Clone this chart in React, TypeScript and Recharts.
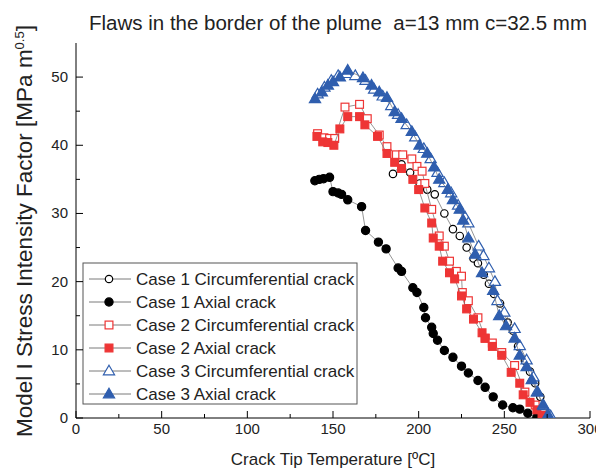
import React from 'react';
import { ScatterChart, Scatter, XAxis, YAxis, Customized } from 'recharts';

// Crack tip temperature [°C] vs. mode I stress intensity factor [MPa m^0.5]
type Pt = { t: number; k: number };
const pts = (rows: number[][]): Pt[] => rows.map(([t, k]) => ({ t, k }));

const case1Circumferential = pts([
  [185, 35.8], [190, 37.2], [195, 36], [200.6, 34.4], [205, 33.5], [209.4, 32.8], [215, 30],
  [220, 27.7], [224, 26.7], [228, 25], [232, 23.4], [234.6, 22.7], [238, 21], [241, 19.7],
  [244, 18.2], [247.5, 16.8], [252, 14], [255, 12.8], [258, 10.5], [262, 8.4], [265, 6.8],
  [268, 5.1], [271, 3.1], [274, 0.5],
]);

const case1Axial = pts([
  [139.4, 34.8], [142, 35], [144.5, 35.1], [148, 35.3], [150, 33.2], [153, 33], [155, 32.8],
  [158.6, 32], [166.7, 31], [169, 27.5], [176.5, 25.8], [181, 24.8], [188, 22], [190, 21.5],
  [196.6, 19.1], [199, 18.4], [203, 16.2], [204, 14.7], [207.6, 13.3], [208.5, 12.4], [211, 11.4],
  [215, 9.9], [220, 8.9], [225, 7.6], [229, 6.6], [234.6, 5.5], [238.8, 4.5], [243.5, 3.1],
  [249, 1.9], [255, 1.5], [259, 1.3], [263.7, 0.7], [269, 0.1],
]);

const case2Circumferential = pts([
  [141, 41.7], [144.7, 41.1], [148, 41], [151, 41], [157, 45.6], [165.5, 46], [170, 43.9],
  [177, 41.5], [181.5, 39.8], [187, 38.6], [190.7, 38.6], [196, 38], [199, 36.9], [202, 36.2],
  [203.6, 34.4], [207.6, 30.6], [212, 26.7], [215, 25.2], [218, 23], [222, 21.5], [225, 20.8],
  [225.5, 18.4], [229, 17.2], [234.6, 14.7], [238.8, 11.7], [243, 11], [248.5, 9.6], [256, 7.7],
  [262, 3.8], [268, 1.9], [272.5, 0.7],
]);

const case2Axial = pts([
  [140.6, 41.3], [144, 40.5], [147, 40.4], [150.5, 40], [154, 42.4], [158.6, 44.2], [165.5, 44.2],
  [168.6, 43], [176, 41.3], [181.5, 38.8], [186, 37.5], [190, 36.6], [196.6, 35], [200, 33.5],
  [203.6, 30.8], [207.6, 28.6], [208.5, 26.4], [212, 25.2], [214, 23], [218, 21.3], [221, 20.4],
  [225, 17.9], [228, 16], [232, 14.5], [237, 12.5], [238.8, 11.7], [243, 10.5], [248.5, 9.2],
  [254, 6.7], [259, 5.1], [261, 3.4], [265, 2.3], [269, 1.2], [272, 0.4],
]);

const case3Circumferential = pts([
  [141, 47.5], [145, 48.5], [149, 49.5], [153, 50.2], [158, 50.5], [163, 50.2], [169, 49.5],
  [174, 48.2], [179, 47.2], [184, 45.8], [188, 44.5], [193, 43], [198, 41.2], [203, 39.5],
  [207, 38], [211, 36], [215, 34.5], [219, 33], [223, 31.2], [227, 29.5], [229, 28.6],
  [235, 25.2], [237.8, 23.8], [241, 22], [244.5, 20], [246, 17.2], [250, 15.5], [256, 13.1],
  [259, 10.6], [263, 8.5], [267, 6], [269, 3.8], [273, 1.8], [277, 0.3],
]);

const case3Axial = pts([
  [139.5, 46.8], [143.5, 47.8], [147, 48.8], [150, 49.3], [154, 50], [158.6, 51], [167.5, 49.9],
  [172.5, 48.8], [177, 47.8], [181.5, 47], [186, 44.9], [190, 43.9], [196, 42], [200.5, 40],
  [205, 38.8], [209, 36.8], [212, 35], [217, 33.5], [220, 32], [224, 30.6], [226, 29],
  [229, 26.4], [233, 24], [237, 21.3], [243.5, 18.7], [247, 15], [251, 13.5], [256, 11.7],
  [259, 9.2], [263, 7.5], [266, 5.6], [269.5, 3.8], [272.5, 1.9], [275.5, 0.5],
]);

const xTicks = [0, 25, 50, 75, 100, 125, 150, 175, 200, 225, 250, 275, 300];
const yTicks = [0, 5, 10, 15, 20, 25, 30, 35, 40, 45, 50];
const xMajorStep = 50;
const yMajorStep = 10;

const RED = '#ee3535';
const BLUE = '#2f5eae';
const BLACK = '#000000';
const LINK = '#7a7a7a';
const FONT = '"Liberation Sans", Arial, sans-serif';

type Kind = 'circle' | 'square' | 'triangle';
type SeriesDef = { name: string; data: Pt[]; kind: Kind; filled: boolean; color: string };

const series: SeriesDef[] = [
  { name: 'Case 1 Circumferential crack', data: case1Circumferential, kind: 'circle', filled: false, color: BLACK },
  { name: 'Case 1 Axial crack', data: case1Axial, kind: 'circle', filled: true, color: BLACK },
  { name: 'Case 2 Circumferential crack', data: case2Circumferential, kind: 'square', filled: false, color: RED },
  { name: 'Case 2 Axial crack', data: case2Axial, kind: 'square', filled: true, color: RED },
  { name: 'Case 3 Circumferential crack', data: case3Circumferential, kind: 'triangle', filled: false, color: BLUE },
  { name: 'Case 3 Axial crack', data: case3Axial, kind: 'triangle', filled: true, color: BLUE },
];

function Marker({ kind, filled, color, cx, cy }: { kind: Kind; filled: boolean; color: string; cx: number; cy: number }) {
  if (cx == null || cy == null || isNaN(cx) || isNaN(cy)) return null;
  const fill = filled ? color : '#ffffff';
  if (kind === 'circle') {
    const r = filled ? 4.1 : 3.7;
    return <circle cx={cx} cy={cy} r={r} fill={fill} stroke={color} strokeWidth={1.2} />;
  }
  if (kind === 'square') {
    const h = 3.9;
    return <rect x={cx - h} y={cy - h} width={2 * h} height={2 * h} fill={fill} stroke={color} strokeWidth={1.2} />;
  }
  const w = 5.6;
  return (
    <polygon
      points={`${cx},${cy - 5.8} ${cx + w},${cy + 3.8} ${cx - w},${cy + 3.8}`}
      fill={fill}
      stroke={color}
      strokeWidth={1.2}
      strokeLinejoin="miter"
    />
  );
}

const isMajor = (v: number, step: number) => Math.abs(v / step - Math.round(v / step)) < 1e-6;

const BottomTick = (p: any) => {
  const major = isMajor(p.payload.value, xMajorStep);
  return (
    <g>
      <line x1={p.x} y1={p.y} x2={p.x} y2={p.y - (major ? 7 : 4)} stroke="#000" strokeWidth={1} />
      {major && (
        <text x={p.x} y={p.y + 16} textAnchor="middle" fontSize={15} fontFamily={FONT} fill="#222">
          {p.payload.value}
        </text>
      )}
    </g>
  );
};

const TopTick = (p: any) => {
  const major = isMajor(p.payload.value, xMajorStep);
  return <line x1={p.x} y1={p.y} x2={p.x} y2={p.y + (major ? 7 : 4)} stroke="#000" strokeWidth={1} />;
};

const LeftTick = (p: any) => {
  const major = isMajor(p.payload.value, yMajorStep);
  return (
    <g>
      <line x1={p.x} y1={p.y} x2={p.x + (major ? 7 : 4)} y2={p.y} stroke="#000" strokeWidth={1} />
      {major && (
        <text x={p.x - 8} y={p.y + 5} textAnchor="end" fontSize={15} fontFamily={FONT} fill="#222">
          {p.payload.value}
        </text>
      )}
    </g>
  );
};

const RightTick = (p: any) => {
  const major = isMajor(p.payload.value, yMajorStep);
  return <line x1={p.x} y1={p.y} x2={p.x - (major ? 7 : 4)} y2={p.y} stroke="#000" strokeWidth={1} />;
};

const Title = () => (
  <text x={81} y={22} textAnchor="start" fontSize={20.5} fontFamily={FONT} fill="#222">
    Flaws in the border of the plume{'\u00A0\u00A0'}a=13 mm c=32.5 mm
  </text>
);

const AxisTitles = () => (
  <g fontFamily={FONT} fill="#222">
    <text x={325} y={457} textAnchor="middle" fontSize={17}>
      Crack Tip Temperature [ºC]
    </text>
    <text transform="translate(24, 429) rotate(-90)" textAnchor="start" fontSize={22.5}>
      Model I Stress Intensity Factor [MPa m
      <tspan dy={-8} fontSize={13}>0.5</tspan>
      <tspan dy={8}>]</tspan>
    </text>
  </g>
);

const LegendBox = () => {
  const left = 75;
  const top = 255;
  const rowGap = 23;
  return (
    <g fontFamily={FONT}>
      <rect x={left} y={top} width={274} height={141} fill="#fff" stroke="#555" strokeWidth={1} />
      {series.map((s, i) => {
        const cy = top + 16 + i * rowGap;
        return (
          <g key={s.name}>
            <line x1={left + 6} y1={cy} x2={left + 48} y2={cy} stroke={LINK} strokeWidth={1} />
            <Marker kind={s.kind} filled={s.filled} color={s.color} cx={left + 26} cy={cy} />
            <text x={left + 53} y={cy + 6} fontSize={17} fill="#222">
              {s.name}
            </text>
          </g>
        );
      })}
    </g>
  );
};

export default function App() {
  return (
    <div>
      <style>{'.recharts-surface{overflow:visible}'}</style>
      <ScatterChart width={590} height={463} margin={{ top: 35, right: 8, bottom: 8, left: 0 }}>
        <XAxis
          xAxisId="b"
          type="number"
          dataKey="t"
          domain={[0, 300]}
          ticks={xTicks}
          interval={0}
          height={45}
          tickSize={0}
          tickMargin={0}
          tickLine={false}
          tick={<BottomTick />}
          axisLine={{ stroke: '#000', strokeWidth: 1 }}
          allowDataOverflow
        />
        <XAxis
          xAxisId="t"
          orientation="top"
          type="number"
          dataKey="t"
          domain={[0, 300]}
          ticks={xTicks}
          interval={0}
          height={0}
          tickSize={0}
          tickMargin={0}
          tickLine={false}
          tick={<TopTick />}
          axisLine={{ stroke: '#000', strokeWidth: 1 }}
          allowDataOverflow
        />
        <YAxis
          yAxisId="l"
          type="number"
          dataKey="k"
          domain={[0, 55]}
          ticks={yTicks}
          interval={0}
          width={68}
          tickSize={0}
          tickMargin={0}
          tickLine={false}
          tick={<LeftTick />}
          axisLine={{ stroke: '#000', strokeWidth: 1 }}
          allowDataOverflow
        />
        <YAxis
          yAxisId="r"
          orientation="right"
          type="number"
          dataKey="k"
          domain={[0, 55]}
          ticks={yTicks}
          interval={0}
          width={0}
          tickSize={0}
          tickMargin={0}
          tickLine={false}
          tick={<RightTick />}
          axisLine={{ stroke: '#000', strokeWidth: 1 }}
          allowDataOverflow
        />
        {series.map((s) => (
          <Scatter
            key={s.name}
            name={s.name}
            data={s.data}
            xAxisId="b"
            yAxisId="l"
            isAnimationActive={false}
            line={{ stroke: LINK, strokeWidth: 0.8 }}
            lineJointType="linear"
            shape={(p: any) => <Marker kind={s.kind} filled={s.filled} color={s.color} cx={p.cx} cy={p.cy} />}
          />
        ))}
        <Customized component={Title} />
        <Customized component={AxisTitles} />
        <Customized component={LegendBox} />
      </ScatterChart>
    </div>
  );
}
